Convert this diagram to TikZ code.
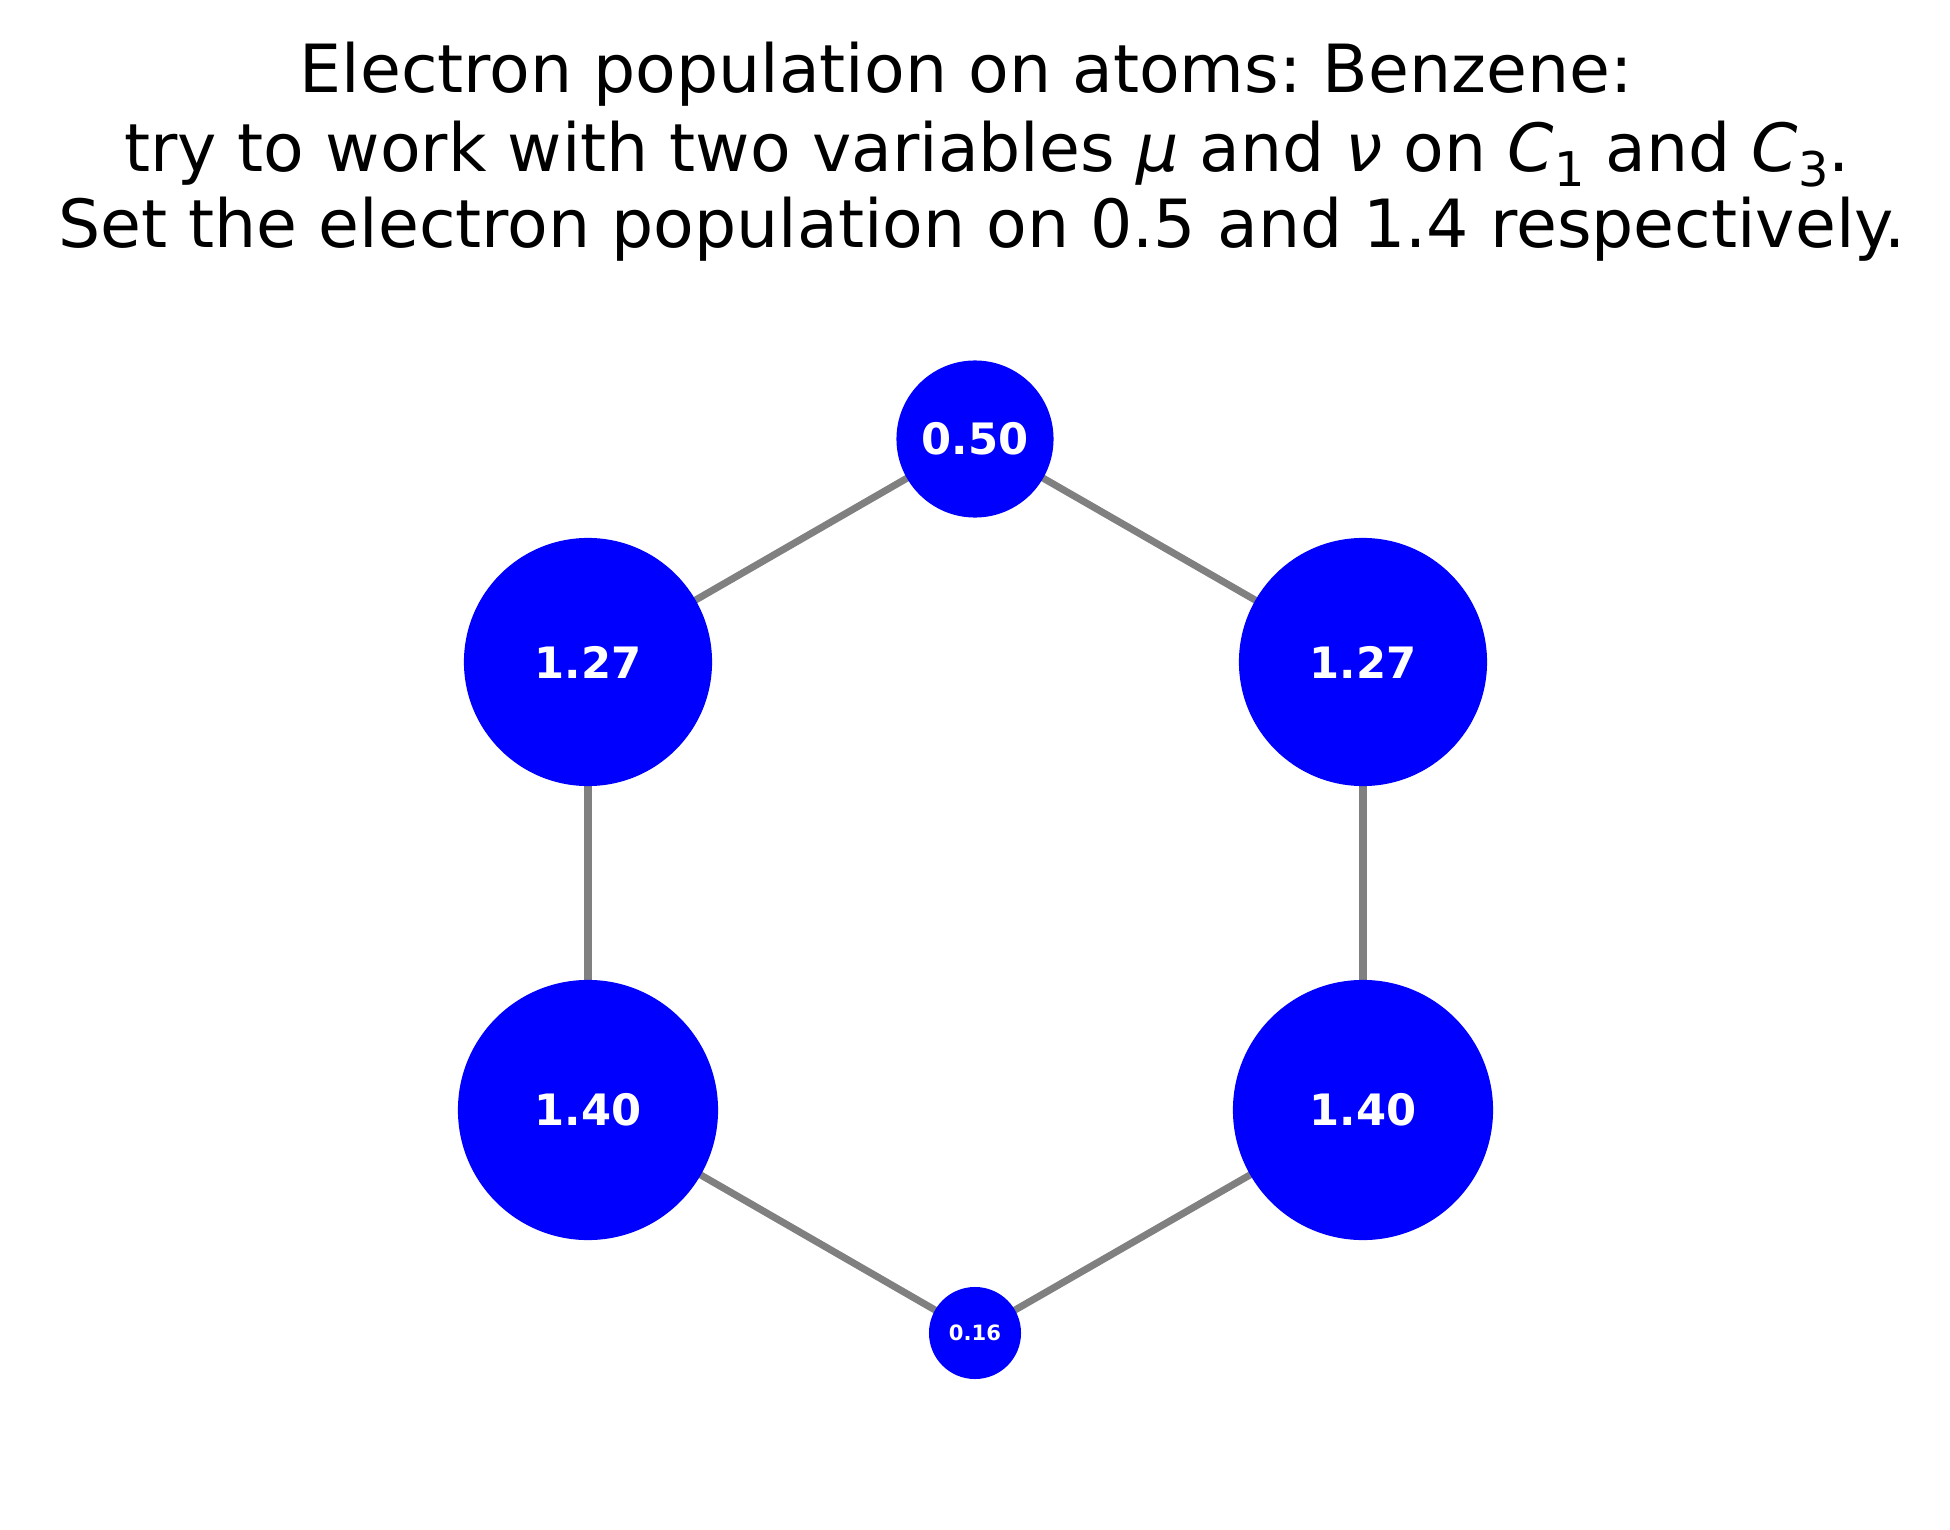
\documentclass[tikz,border=0pt]{standalone}
\usepackage{fontspec}
\setmainfont{DejaVu Sans}
\usetikzlibrary{backgrounds}
\definecolor{atomblue}{HTML}{0000FF}
\definecolor{bondgray}{HTML}{808080}
\newcommand{\subdig}[1]{\raisebox{-0.24em}{\fontsize{13.6}{13.6}\selectfont #1}}
\frenchspacing
\begin{document}
\begin{tikzpicture}[x=0.01cm,y=-0.01cm,
  atom/.style={circle,fill=atomblue,draw=none,inner sep=0pt,text=white,font=\bfseries\fontsize{12.3}{12.3}\selectfont},
  bond/.style={draw=bondgray,line width=2pt},
  titleline/.style={anchor=base,inner sep=0pt,font=\fontsize{18.9}{22}\selectfont}]
\useasboundingbox (0,0) rectangle (1950,1530);
\node[titleline] (t1) at (966,92) {Electron population on atoms: Benzene:};
\node[titleline] (t2) at (987,171) {try to work with two variables \textit{μ} and \textit{ν} on \textit{C}\subdig{1} and \textit{C}\subdig{3}.};
\node[titleline] (t3) at (982,248) {Set the electron population on 0.5 and 1.4 respectively.};
\node[atom,minimum size=1.57cm] (a1) at (975,439) {0.50};
\node[atom,minimum size=2.48cm] (a2) at (1363,662) {1.27};
\node[atom,minimum size=2.6cm] (a3) at (1363,1110) {1.40};
\node[atom,minimum size=0.92cm,font=\bfseries\fontsize{6.0}{6.0}\selectfont] (a4) at (975,1333) {0.16};
\node[atom,minimum size=2.6cm] (a5) at (588,1110) {1.40};
\node[atom,minimum size=2.48cm] (a6) at (588,662) {1.27};
\begin{scope}[on background layer]
\draw[bond] (a1.center) -- (a2.center);
\draw[bond] (a2.center) -- (a3.center);
\draw[bond] (a3.center) -- (a4.center);
\draw[bond] (a4.center) -- (a5.center);
\draw[bond] (a5.center) -- (a6.center);
\draw[bond] (a6.center) -- (a1.center);
\end{scope}
\end{tikzpicture}
\end{document}
